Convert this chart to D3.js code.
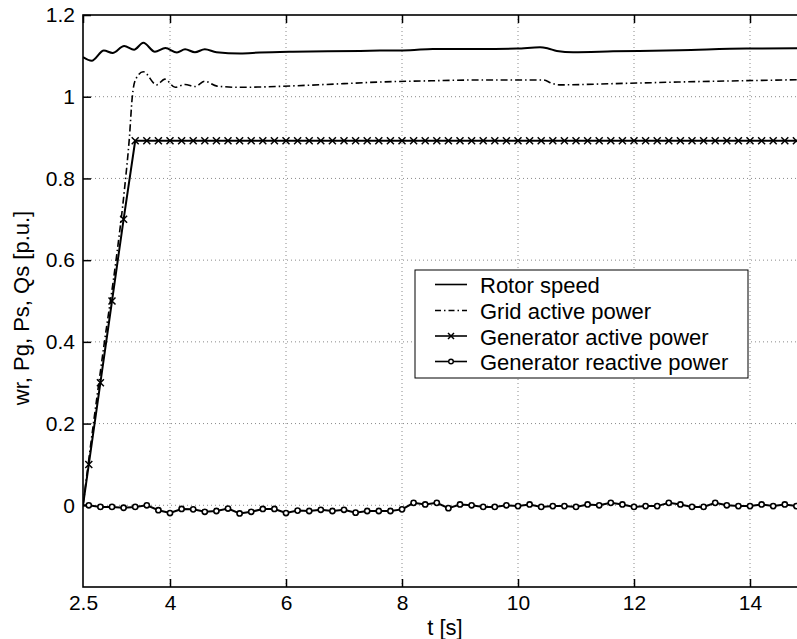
<!DOCTYPE html>
<html>
<head>
<meta charset="utf-8">
<script src="https://cdn.jsdelivr.net/npm/d3@7"></script>
<style>
  html, body { margin: 0; padding: 0; background: #fff; }
  svg { display: block; }
  text { font-family: "Liberation Sans", Arial, Helvetica, sans-serif; fill: #000; }
</style>
</head>
<body>
<svg id="chart" width="797" height="639"></svg>
<script>
// ---------------- DATA ----------------
const xTicks = [2.5, 4, 6, 8, 10, 12, 14];
const xTickLabels = ["2.5", "4", "6", "8", "10", "12", "14"];
const yTicks = [0, 0.2, 0.4, 0.6, 0.8, 1, 1.2];
const yTickLabels = ["0", "0.2", "0.4", "0.6", "0.8", "1", "1.2"];
const seriesNames = ["Rotor speed", "Grid active power", "Generator active power", "Generator reactive power"];

// Rotor speed wr
const wrTime  = [2.5, 2.65, 2.86, 3.01, 3.21, 3.38, 3.54, 3.74, 3.92, 4.12, 4.26, 4.43, 4.60, 4.80, 5.21, 5.55, 6.12, 7.28, 7.62, 8.14, 8.53, 9.34, 9.98, 10.38, 10.52, 10.67, 10.95, 11.64, 12.79, 13.94, 15.0];
const wrValue = [1.097, 1.088, 1.113, 1.107, 1.124, 1.115, 1.132, 1.110, 1.119, 1.108, 1.116, 1.109, 1.116, 1.109, 1.106, 1.108, 1.110, 1.112, 1.113, 1.114, 1.117, 1.117, 1.118, 1.121, 1.118, 1.112, 1.109, 1.111, 1.114, 1.118, 1.119];

// Grid active power Pg
const pgTime  = [2.5, 2.68, 2.87, 3.07, 3.22, 3.30, 3.35, 3.40, 3.54, 3.77, 3.91, 4.09, 4.26, 4.43, 4.60, 4.81, 5.2, 5.6, 6.2, 7.0, 7.62, 8.5, 9.34, 10.44, 10.58, 10.73, 11.64, 12.79, 15.0];
const pgValue = [0.0, 0.2, 0.4, 0.6, 0.78, 0.9, 1.0, 1.04, 1.061, 1.029, 1.043, 1.023, 1.030, 1.025, 1.038, 1.026, 1.023, 1.024, 1.027, 1.032, 1.036, 1.039, 1.041, 1.041, 1.033, 1.029, 1.032, 1.036, 1.042];

// Generator active power Ps (marker samples every 0.2 s)
const psTime  = [2.5, 2.6, 2.8, 3.0, 3.2, 3.4, 3.6, 3.8, 4.0, 4.2, 4.4, 4.6, 4.8, 5.0, 5.2, 5.4, 5.6, 5.8, 6.0, 6.2, 6.4, 6.6, 6.8, 7.0, 7.2, 7.4, 7.6, 7.8, 8.0, 8.2, 8.4, 8.6, 8.8, 9.0, 9.2, 9.4, 9.6, 9.8, 10.0, 10.2, 10.4, 10.6, 10.8, 11.0, 11.2, 11.4, 11.6, 11.8, 12.0, 12.2, 12.4, 12.6, 12.8, 13.0, 13.2, 13.4, 13.6, 13.8, 14.0, 14.2, 14.4, 14.6, 14.8, 15.0];
const psValue = [0.0, 0.1, 0.3, 0.5, 0.7, 0.892, 0.892, 0.892, 0.892, 0.892, 0.892, 0.892, 0.892, 0.892, 0.892, 0.892, 0.892, 0.892, 0.892, 0.892, 0.892, 0.892, 0.892, 0.892, 0.892, 0.892, 0.892, 0.892, 0.892, 0.892, 0.892, 0.892, 0.892, 0.892, 0.892, 0.892, 0.892, 0.892, 0.892, 0.892, 0.892, 0.892, 0.892, 0.892, 0.892, 0.892, 0.892, 0.892, 0.892, 0.892, 0.892, 0.892, 0.892, 0.892, 0.892, 0.892, 0.892, 0.892, 0.892, 0.892, 0.892, 0.892, 0.892, 0.892];

// Generator reactive power Qs (marker samples every 0.2 s)
const qsTime  = [2.5, 2.6, 2.8, 3.0, 3.2, 3.4, 3.6, 3.8, 4.0, 4.2, 4.4, 4.6, 4.8, 5.0, 5.2, 5.4, 5.6, 5.8, 6.0, 6.2, 6.4, 6.6, 6.8, 7.0, 7.2, 7.4, 7.6, 7.8, 8.0, 8.2, 8.4, 8.6, 8.8, 9.0, 9.2, 9.4, 9.6, 9.8, 10.0, 10.2, 10.4, 10.6, 10.8, 11.0, 11.2, 11.4, 11.6, 11.8, 12.0, 12.2, 12.4, 12.6, 12.8, 13.0, 13.2, 13.4, 13.6, 13.8, 14.0, 14.2, 14.4, 14.6, 14.8, 15.0];
const qsValue = [0.0, 0.0, -0.004, -0.004, -0.006, -0.004, 0.0, -0.012, -0.019, -0.009, -0.010, -0.016, -0.014, -0.008, -0.020, -0.016, -0.009, -0.009, -0.019, -0.013, -0.014, -0.011, -0.014, -0.011, -0.018, -0.014, -0.014, -0.014, -0.010, 0.006, 0.002, 0.006, -0.007, 0.002, 0.0, -0.004, -0.004, 0.0, -0.002, 0.002, -0.004, -0.002, -0.002, -0.004, 0.002, 0.0, 0.006, 0.002, -0.004, -0.002, -0.002, 0.006, 0.002, -0.004, -0.004, 0.006, 0.0, -0.002, -0.002, 0.002, -0.002, 0.002, -0.002, 0.0];

// ---------------- CHART ----------------
const W = 797, H = 639;
const margin = { left: 83, top: 15, bottom: 52 };
const x = d3.scaleLinear().domain([2.5, 15]).range([83, 808]);
const y = d3.scaleLinear().domain([-0.2, 1.2]).range([587, 15]);

const svg = d3.select("#chart");
const zip = (t, v) => t.map((d, i) => ({ t: d, v: v[i] }));
const wr = zip(wrTime, wrValue), pg = zip(pgTime, pgValue), ps = zip(psTime, psValue), qs = zip(qsTime, qsValue);

svg.append("defs").append("clipPath").attr("id", "plotclip")
  .append("rect").attr("x", x(2.5)).attr("y", y(1.2)).attr("width", x(15) - x(2.5)).attr("height", y(-0.2) - y(1.2));

// grid
const grid = svg.append("g").attr("stroke", "#8a8a8a").attr("stroke-width", 1).attr("stroke-dasharray", "1,3");
grid.selectAll("line.vx").data(xTicks.filter(d => d > 2.5)).join("line")
  .attr("x1", d => x(d)).attr("x2", d => x(d)).attr("y1", y(1.2)).attr("y2", y(-0.2));
grid.selectAll("line.hy").data(yTicks.filter(d => d < 1.2)).join("line")
  .attr("x1", x(2.5)).attr("x2", x(15)).attr("y1", d => y(d)).attr("y2", d => y(d));

// axes
const fmtX = d => xTickLabels[xTicks.indexOf(d)];
const fmtY = d => yTickLabels[yTicks.indexOf(d)];
const axB = svg.append("g").attr("transform", `translate(0,${y(-0.2)})`)
  .call(d3.axisBottom(x).tickValues(xTicks).tickFormat(fmtX).tickSizeInner(-8).tickSizeOuter(0).tickPadding(8));
const axT = svg.append("g").attr("transform", `translate(0,${y(1.2)})`)
  .call(d3.axisTop(x).tickValues(xTicks).tickFormat("").tickSizeInner(-8).tickSizeOuter(0));
const axL = svg.append("g").attr("transform", `translate(${x(2.5)},0)`)
  .call(d3.axisLeft(y).tickValues(yTicks).tickFormat(fmtY).tickSizeInner(-8).tickSizeOuter(0).tickPadding(8));
[axB, axT, axL].forEach(a => {
  a.select(".domain").remove();
  a.selectAll(".tick line").attr("stroke", "#000").attr("stroke-width", 1.5);
  a.selectAll("text").style("font-size", "21px").attr("font-family", null);
});
axB.selectAll(".tick").filter(d => d === 2.5).select("line").remove();

// frame
svg.append("rect").attr("x", x(2.5)).attr("y", y(1.2)).attr("width", x(15) - x(2.5)).attr("height", y(-0.2) - y(1.2))
  .attr("fill", "none").attr("stroke", "#000").attr("stroke-width", 1.6);

// lines
const plot = svg.append("g").attr("clip-path", "url(#plotclip)");
const smooth = d3.line().x(d => x(d.t)).y(d => y(d.v)).curve(d3.curveMonotoneX);
const straight = d3.line().x(d => x(d.t)).y(d => y(d.v));

plot.append("path").datum(wr).attr("d", smooth).attr("fill", "none").attr("stroke", "#000").attr("stroke-width", 2);
plot.append("path").datum(pg).attr("d", smooth).attr("fill", "none").attr("stroke", "#000").attr("stroke-width", 1.6)
  .attr("stroke-dasharray", "7,3,1.5,3");
plot.append("path").datum(ps).attr("d", straight).attr("fill", "none").attr("stroke", "#000").attr("stroke-width", 2);
plot.append("path").datum(qs).attr("d", straight).attr("fill", "none").attr("stroke", "#000").attr("stroke-width", 2);

const xMark = (g, cx, cy, s) => g.append("path")
  .attr("d", `M${cx - s},${cy - s}L${cx + s},${cy + s}M${cx - s},${cy + s}L${cx + s},${cy - s}`)
  .attr("stroke", "#000").attr("stroke-width", 1.5).attr("fill", "none");

ps.slice(1).forEach(d => xMark(plot, x(d.t), y(d.v), 3.5));
plot.selectAll("circle.q").data(qs.slice(1)).join("circle")
  .attr("cx", d => x(d.t)).attr("cy", d => y(d.v)).attr("r", 2.6)
  .attr("fill", "#fff").attr("stroke", "#000").attr("stroke-width", 1.6);

// legend
const lg = svg.append("g");
lg.append("rect").attr("x", 415).attr("y", 270).attr("width", 333).attr("height", 108)
  .attr("fill", "#fff").attr("stroke", "#000").attr("stroke-width", 1);
const rowY = [284.5, 310.5, 336, 361.5];
seriesNames.forEach((name, i) => {
  const ly = rowY[i];
  const ln = lg.append("line").attr("x1", 435).attr("x2", 467).attr("y1", ly).attr("y2", ly)
    .attr("stroke", "#000").attr("stroke-width", i === 1 ? 1.4 : 1.6);
  if (i === 1) ln.attr("stroke-dasharray", "6,3,1.5,3");
  if (i === 2) xMark(lg, 451, ly, 3);
  if (i === 3) lg.append("circle").attr("cx", 451).attr("cy", ly).attr("r", 2.3)
    .attr("fill", "#fff").attr("stroke", "#000").attr("stroke-width", 1.4);
  lg.append("text").attr("x", 480).attr("y", ly + 8.5).style("font-size", "22px").text(name);
});

// axis labels
svg.append("text").attr("x", 445).attr("y", 635).attr("text-anchor", "middle").style("font-size", "22px").text("t [s]");
svg.append("text").attr("transform", "translate(29,308) rotate(-90)").attr("text-anchor", "middle")
  .style("font-size", "22px").text("wr, Pg, Ps, Qs [p.u.]");
</script>
</body>
</html>
